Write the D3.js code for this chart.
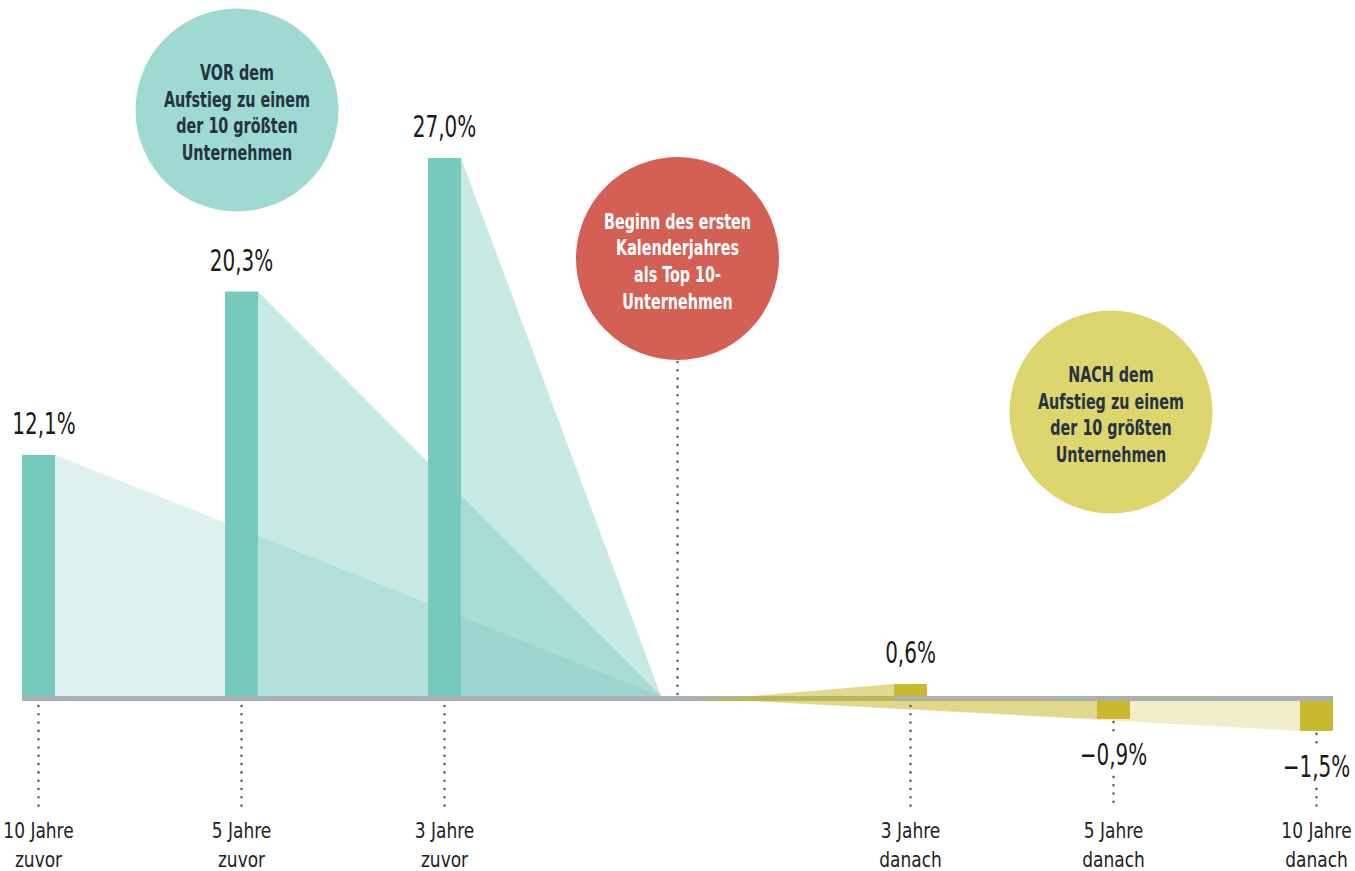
<!DOCTYPE html>
<html>
<head>
<meta charset="utf-8">
<script src="https://cdn.jsdelivr.net/npm/d3@7"></script>
<style>
  body { margin: 0; background: #fff; }
  svg { display: block; font-family: "Liberation Sans Narrow", "DejaVu Sans Condensed", "Arial Narrow", sans-serif; }
</style>
</head>
<body>
<div id="chart"></div>
<script>
// values (percent)
const beforeCats = ["10 Jahre zuvor", "5 Jahre zuvor", "3 Jahre zuvor"];
const beforeValues = [12.1, 20.3, 27.0];
const afterCats = ["3 Jahre danach", "5 Jahre danach", "10 Jahre danach"];
const afterValues = [0.6, -0.9, -1.5];

const beforeBubble = ["VOR dem", "Aufstieg zu einem", "der 10 größten", "Unternehmen"];
const startBubble = ["Beginn des ersten", "Kalenderjahres", "als Top 10-", "Unternehmen"];
const afterBubble = ["NACH dem", "Aufstieg zu einem", "der 10 größten", "Unternehmen"];

const width = 1355, height = 871;
const barW = 33, lineH = 5;
const teal = "#77c9bd", yellow = "#c9b92f";
const dotColor = "#53626f";

const svg = d3.select("#chart").append("svg")
  .attr("width", width).attr("height", height);

// two point scales, one per side of the start marker
const xBefore = d3.scalePoint().domain(beforeCats).range([38.5, 444.5]);
const xAfter = d3.scalePoint().domain(afterCats).range([910.5, 1316.5]);
const xMid = (xBefore(beforeCats[2]) + xAfter(afterCats[0])) / 2;

const y = d3.scaleLinear().domain([0, 27]).range([696, 158]);
const y0 = y(0), yLow = y0 + lineH;
const h = v => y0 - y(Math.abs(v));

const fmt = v => (v < 0 ? "\u2212" : "") + d3.format(".1f")(Math.abs(v)).replace(".", ",") + "%";

const before = beforeCats.map((c, i) => ({cat: c, v: beforeValues[i], x: xBefore(c)}));
const after = afterCats.map((c, i) => ({cat: c, v: afterValues[i], x: xAfter(c)}));

// condensed look: squeeze text horizontally around its anchor
function place(sel, fx, fy, sx) {
  sel.attr("transform", (d, i) => `translate(${fx(d, i)},${fy(d, i)}) scale(${sx},1)`);
}

// baseline
svg.append("rect")
  .attr("x", xBefore(beforeCats[0]) - barW / 2)
  .attr("y", y0)
  .attr("width", xAfter(afterCats[2]) + barW / 2 - (xBefore(beforeCats[0]) - barW / 2))
  .attr("height", lineH)
  .attr("fill", "#a9b0b6");

// fans towards the start point
const tipL = xMid - 16.5, tipR = xMid + 17;
const fanOpacity = [0.25, 0.4, 0.4];

svg.append("g").selectAll("path")
  .data(before)
  .join("path")
  .attr("d", d => {
    const xr = d.x + barW / 2;
    return `M${xr},${y(d.v)}L${tipL},${y0}L${xr},${y0}Z`;
  })
  .attr("fill", teal)
  .attr("fill-opacity", (d, i) => fanOpacity[i]);

svg.append("g").selectAll("path")
  .data(after.slice().reverse())
  .join("path")
  .attr("d", d => {
    const xl = d.x - barW / 2;
    if (d.v >= 0) return `M${tipR},${yLow}L${xl},${y(d.v)}L${xl},${yLow}Z`;
    return `M${tipR},${y0 + 2}L${xl},${yLow}L${xl},${yLow + h(d.v)}Z`;
  })
  .attr("fill", yellow)
  .attr("fill-opacity", d => d.v >= 0 ? 0.55 : (d.cat.startsWith("10") ? 0.25 : 0.4));

// bars
svg.append("g").selectAll("rect")
  .data(before)
  .join("rect")
  .attr("x", d => d.x - barW / 2)
  .attr("y", d => y(d.v))
  .attr("width", barW)
  .attr("height", d => h(d.v))
  .attr("fill", teal);

svg.append("g").selectAll("rect")
  .data(after)
  .join("rect")
  .attr("x", d => d.x - barW / 2)
  .attr("y", d => d.v >= 0 ? y(d.v) : yLow)
  .attr("width", barW)
  .attr("height", d => h(d.v))
  .attr("fill", yellow);

// dotted leader lines
function dots(x, a, b) {
  svg.append("line")
    .attr("x1", x).attr("x2", x).attr("y1", a).attr("y2", b)
    .attr("stroke", dotColor)
    .attr("stroke-width", 2.6)
    .attr("stroke-linecap", "round")
    .attr("stroke-dasharray", "0,8.3");
}
const dotEnd = 806;
before.forEach(d => dots(d.x, yLow + 5, dotEnd));
after.forEach(d => {
  if (d.v >= 0) dots(d.x, yLow + 5, dotEnd);
  else {
    const bottom = yLow + h(d.v);
    const base = bottom + 46;
    dots(d.x, bottom + 3, base - 30);
    dots(d.x, base + 12, dotEnd);
  }
});
dots(xMid, 362, y0 + 2);

// value labels
const all = before.concat(after);
svg.append("g").selectAll("text")
  .data(all)
  .join("text")
  .attr("text-anchor", "middle")
  .attr("font-size", 30)
  .attr("fill", "#1a1a1a")
  .text(d => fmt(d.v))
  .call(place,
    d => d.v >= 0 ? Math.max(d.x, 44) : d.x,
    d => d.v >= 0 ? y(d.v) - 21 : yLow + h(d.v) + 46,
    0.74);

// category labels, two lines each
const cats = svg.append("g").selectAll("text")
  .data(all)
  .join("text")
  .attr("text-anchor", "middle")
  .attr("font-size", 22)
  .attr("fill", "#222")
  .call(place, d => d.x, () => 0, 0.86);
cats.each(function(d) {
  const i = d.cat.lastIndexOf(" ");
  const t = d3.select(this);
  t.append("tspan").attr("x", 0).attr("y", 838).text(d.cat.slice(0, i));
  t.append("tspan").attr("x", 0).attr("y", 867).text(d.cat.slice(i + 1));
});

// bubbles
function bubble(cx, cy, fill, color, lines) {
  const g = svg.append("g");
  g.append("circle").attr("cx", cx).attr("cy", cy).attr("r", 101.5).attr("fill", fill);
  g.append("g").selectAll("text")
    .data(lines)
    .join("text")
    .attr("text-anchor", "middle")
    .attr("font-size", 21)
    .attr("font-weight", "bold")
    .attr("fill", color)
    .text(d => d)
    .call(place, () => cx, (d, i) => cy - 30 + i * 26.7, 0.76);
}
bubble(237, 110, "#9fdad2", "#243242", beforeBubble);
bubble(xMid, 258.5, "#d45f55", "#ffffff", startBubble);
bubble(1111, 412, "#ddd56e", "#243242", afterBubble);
</script>
</body>
</html>
